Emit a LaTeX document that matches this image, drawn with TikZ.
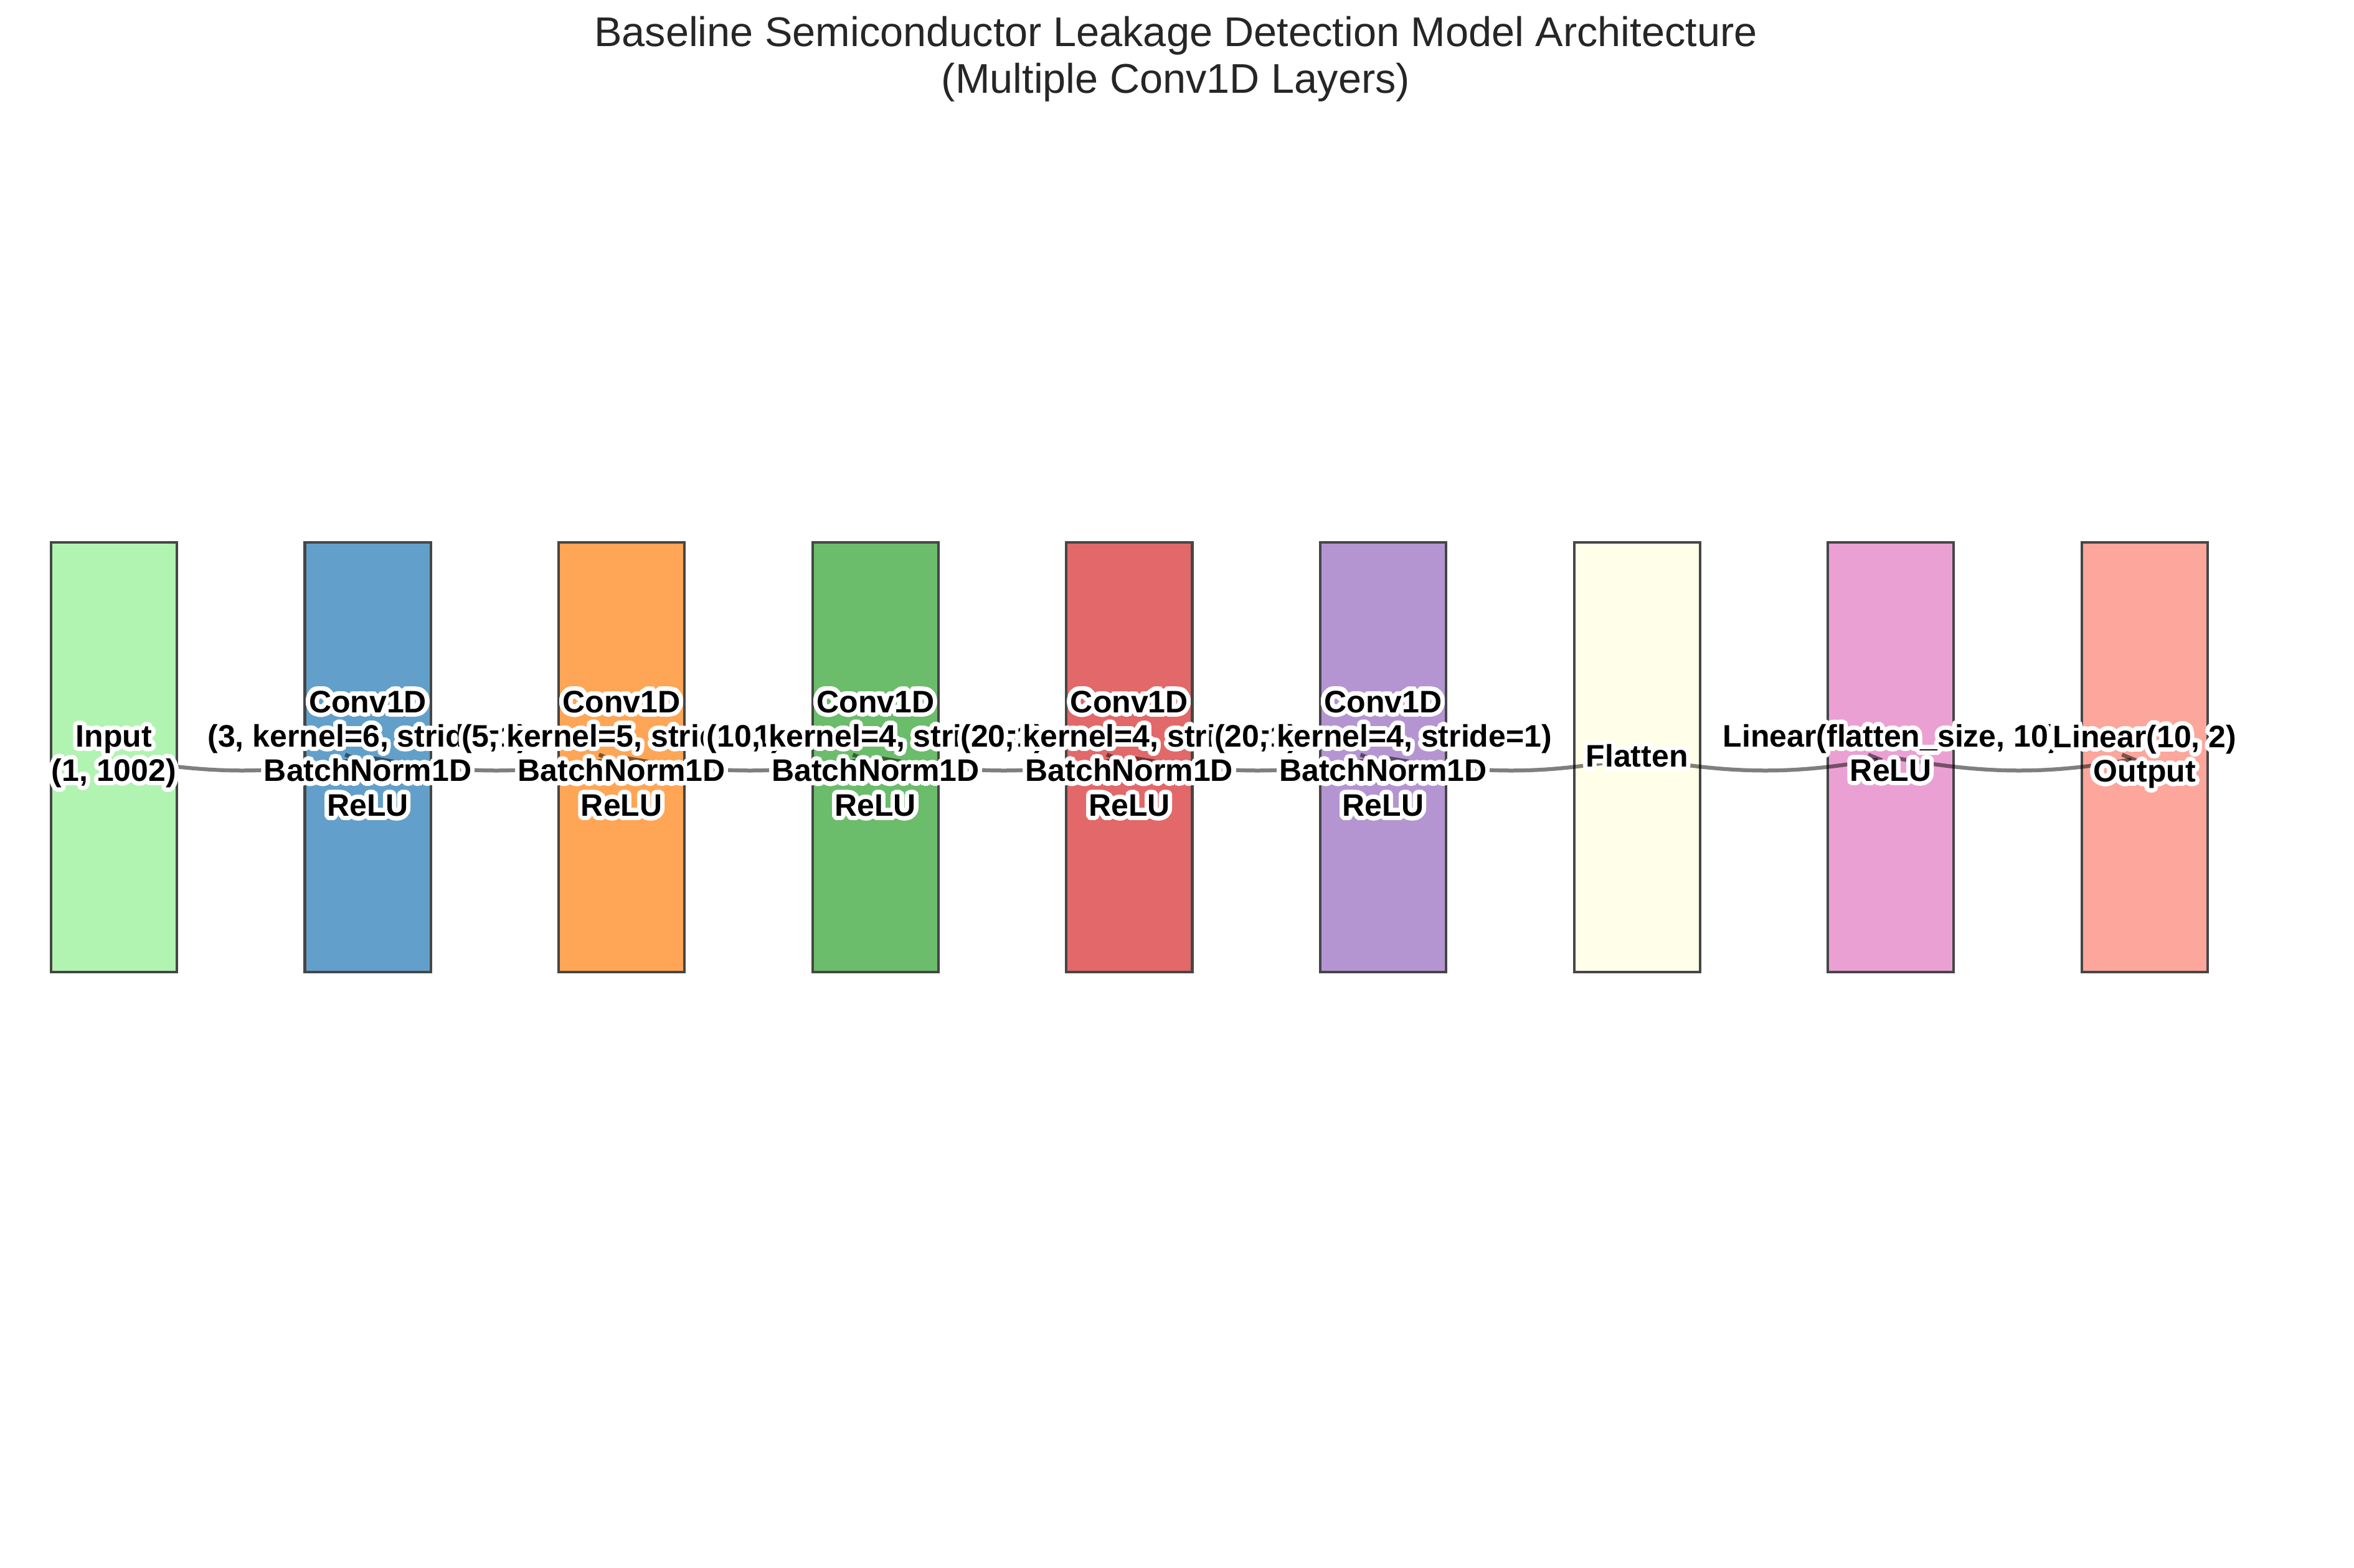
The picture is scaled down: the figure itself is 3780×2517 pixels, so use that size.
\documentclass[tikz,border=0pt]{standalone}
\usepackage{fontspec}
\setmainfont{Liberation Sans}
\usetikzlibrary{arrows.meta}
\definecolor{cInput}{RGB}{177,243,177}
\definecolor{cBlue}{RGB}{98,160,203}
\definecolor{cOrange}{RGB}{255,165,86}
\definecolor{cGreen}{RGB}{107,188,107}
\definecolor{cRed}{RGB}{226,104,105}
\definecolor{cPurple}{RGB}{180,149,209}
\definecolor{cYellow}{RGB}{255,255,233}
\definecolor{cPink}{RGB}{235,160,212}
\definecolor{cSalmon}{RGB}{252,166,156}
\definecolor{edgegray}{RGB}{70,70,70}
\definecolor{titlegray}{RGB}{38,38,38}
\tikzset{
  layerbox/.style={draw=edgegray, line width=1pt, minimum width=48.5pt, minimum height=165.5pt, inner sep=0pt},
  conn/.style={draw=black, draw opacity=0.5, line width=1.5pt, shorten <=2pt, shorten >=3pt, -{Straight Barb[length=4pt,width=5pt]}},
  lab/.style={font=\bfseries\fontsize{12}{13.3}\selectfont, align=center, inner sep=0pt, text=black},
  titlestyle/.style={font=\fontsize{16}{17.9}\selectfont, align=center, inner sep=0pt, text=titlegray}
}
\newcommand\halonode[3]{%
  \foreach \hang in {0,15,...,345}{\node[lab,text=white] at ([shift={(\hang:1.7pt)}]#2) {#3};}%
  \foreach \hang in {7.5,37.5,...,337.5}{\node[lab,text=white] at ([shift={(\hang:0.9pt)}]#2) {#3};}%
  \node[lab] (#1) at (#2) {#3};%
}
\begin{document}
\begin{tikzpicture}[x=0.24pt,y=-0.24pt]
\useasboundingbox (0,0) rectangle (3780,2517);
\fill[white] (0,0) rectangle (3780,2517);
\node[titlestyle] (title) at (1888,95) {Baseline Semiconductor Leakage Detection Model Architecture\\(Multiple Conv1D Layers)};
% boxes
\node[layerbox, fill=cInput]  (b1) at (183,1216) {};
\node[layerbox, fill=cBlue]   (b2) at (590.6,1216) {};
\node[layerbox, fill=cOrange] (b3) at (998.2,1216) {};
\node[layerbox, fill=cGreen]  (b4) at (1405.8,1216) {};
\node[layerbox, fill=cRed]    (b5) at (1813.4,1216) {};
\node[layerbox, fill=cPurple] (b6) at (2221,1216) {};
\node[layerbox, fill=cYellow] (b7) at (2628.6,1216) {};
\node[layerbox, fill=cPink]   (b8) at (3036.2,1216) {};
\node[layerbox, fill=cSalmon] (b9) at (3443.8,1216) {};
% connectors
\foreach \a/\b in {b1/b2,b2/b3,b3/b4,b4/b5,b5/b6,b6/b7,b7/b8,b8/b9}{
  \draw[conn] (\a.center) to[bend right=10] (\b.center);
}
% labels
\halonode{l1}{183,1215}{Input\\(1, 1002)}
\halonode{l2}{590.6,1210}{Conv1D\\(3, kernel=6, stride=1)\\BatchNorm1D\\ReLU}
\halonode{l3}{998.2,1210}{Conv1D\\(5, kernel=5, stride=1)\\BatchNorm1D\\ReLU}
\halonode{l4}{1405.8,1210}{Conv1D\\(10, kernel=4, stride=1)\\BatchNorm1D\\ReLU}
\halonode{l5}{1813.4,1210}{Conv1D\\(20, kernel=4, stride=1)\\BatchNorm1D\\ReLU}
\halonode{l6}{2221,1210}{Conv1D\\(20, kernel=4, stride=1)\\BatchNorm1D\\ReLU}
\halonode{l7}{2628.6,1214}{Flatten}
\halonode{l8}{3036.2,1209}{Linear(flatten\_size, 10)\\ReLU}
\halonode{l9}{3443.8,1215}{Linear(10, 2)\\Output}
\end{tikzpicture}
\end{document}
